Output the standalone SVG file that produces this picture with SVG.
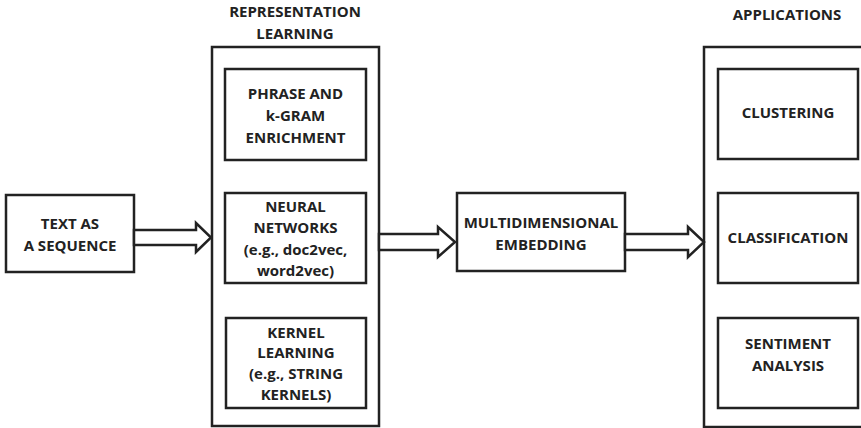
<svg xmlns="http://www.w3.org/2000/svg" width="861" height="428" viewBox="0 0 861 428">
  <style>
    .box { fill: #ffffff; stroke: #222222; stroke-width: 2.5; }
    .arrow { fill: #ffffff; stroke: #222222; stroke-width: 2.5; stroke-linejoin: miter; }
    text { font-family: "Open Sans", "Liberation Sans", Arial, sans-serif; font-weight: bold; font-size: 15px; fill: #222222; text-anchor: middle; }
  </style>
  <rect width="861" height="428" fill="#ffffff"/>

  <!-- section headings -->
  <text x="295" y="17">REPRESENTATION</text>
  <text x="295" y="39">LEARNING</text>
  <text x="787" y="20">APPLICATIONS</text>

  <!-- container frames -->
  <g id="representation-learning">
    <rect class="box" x="212" y="47" width="167" height="379"/>
  </g>
  <g id="applications">
    <rect class="box" x="704" y="47" width="170" height="380"/>
  </g>

  <g id="text-as-sequence">
    <rect class="box" x="6" y="195" width="128" height="77"/>
    <text x="70" y="229">TEXT AS</text>
    <text x="70" y="251">A SEQUENCE</text>
  </g>

  <g id="phrase-kgram">
    <rect class="box" x="225" y="69" width="141" height="91"/>
    <text x="295.5" y="99">PHRASE AND</text>
    <text x="295.5" y="121">k-GRAM</text>
    <text x="295.5" y="143">ENRICHMENT</text>
  </g>

  <g id="neural-networks">
    <rect class="box" x="225" y="193" width="141" height="90"/>
    <text x="295.5" y="212">NEURAL</text>
    <text x="295.5" y="233">NETWORKS</text>
    <text x="295.5" y="255">(e.g., doc2vec,</text>
    <text x="295.5" y="276">word2vec)</text>
  </g>

  <g id="kernel-learning">
    <rect class="box" x="226" y="318" width="140" height="90"/>
    <text x="296" y="338">KERNEL</text>
    <text x="296" y="358">LEARNING</text>
    <text x="296" y="379">(e.g., STRING</text>
    <text x="296" y="400">KERNELS)</text>
  </g>

  <g id="multidimensional-embedding">
    <rect class="box" x="457" y="193" width="168" height="78"/>
    <text x="541" y="228">MULTIDIMENSIONAL</text>
    <text x="541" y="250">EMBEDDING</text>
  </g>

  <g id="clustering">
    <rect class="box" x="718" y="69" width="140" height="90"/>
    <text x="788" y="118">CLUSTERING</text>
  </g>

  <g id="classification">
    <rect class="box" x="718" y="193" width="140" height="90"/>
    <text x="788" y="243">CLASSIFICATION</text>
  </g>

  <g id="sentiment-analysis">
    <rect class="box" x="718" y="318" width="140" height="90"/>
    <text x="788" y="349">SENTIMENT</text>
    <text x="788" y="371">ANALYSIS</text>
  </g>

  <!-- block arrows between stages -->
  <g id="connectors">
    <path class="arrow" d="M134,230 H196 V223 L211,237.5 L196,252 V245 H134 Z"/>
    <path class="arrow" d="M379,234 H438 V227 L455,242 L438,257 V250 H379 Z"/>
    <path class="arrow" d="M625,234 H688 V227 L704,242 L688,257 V250 H625 Z"/>
  </g>
</svg>
